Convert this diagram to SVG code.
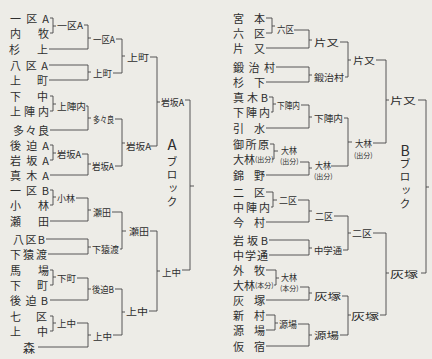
<svg xmlns="http://www.w3.org/2000/svg" width="432" height="359" viewBox="0 0 432 359">
<style>
text{font-family:"Noto Sans CJK JP","Noto Sans",sans-serif;fill:#2e2e2e;dominant-baseline:central}
.n{font-size:11px}
.l{font-size:9.5px}
.s{font-size:7px}
.b{font-size:15px;text-anchor:middle}
.v{font-size:11px;writing-mode:vertical-rl;letter-spacing:2.5px}
.c path{fill:none;stroke:#454545;stroke-width:0.9}
</style>
<rect width="432" height="359" fill="#edece7"/>
<g class="c" id="connectors">
<path d="M50 18H53V33H50M53 26H56"/>
<path d="M50 96H53V111H50M53 104H56"/>
<path d="M50 145H53V160H50M53 153H56"/>
<path d="M50 190H53V205H50M53 197H56"/>
<path d="M50 270H53V285H50M53 277H56"/>
<path d="M50 316H53V331H50M53 323H56"/>
<path d="M84 25H88V49H49M88 38H91"/>
<path d="M49 65H88V80H49M88 72H91"/>
<path d="M86 106H88V130H50M88 118H91"/>
<path d="M82 154H88V175H50M88 164H91"/>
<path d="M76 198H88V221H50M88 210H91"/>
<path d="M46 239H88V254H48M88 247H91"/>
<path d="M77 278H88V300H50M88 289H91"/>
<path d="M77 323H88V347H38M88 335H91"/>
<path d="M116 39H122V73H113M122 56H125"/>
<path d="M115 119H122V166H115M122 143H125"/>
<path d="M112 212H122V249H120M122 231H126"/>
<path d="M115 289H122V335H113M122 312H125"/>
<path d="M150 57H157V146H150M157 102H160"/>
<path d="M150 231H157V311H149M157 271H160"/>
<path d="M185 100H190V270H182M190 186H194"/>
<path d="M266 18H272V33H266M272 26H275"/>
<path d="M269 97H273V112H271M273 104H276"/>
<path d="M270 144H274V159H272M274 151H278"/>
<path d="M266 192H273V207H271M273 200H277"/>
<path d="M266 270H276V285H274M276 278H279"/>
<path d="M266 315H275V330H266M275 323H278"/>
<path d="M294 30H309V48H266M309 40H312"/>
<path d="M276 67H309V82H266M309 75H312"/>
<path d="M301 105H309V128H266M309 117H312"/>
<path d="M300 162H309V175H266M309 168H312"/>
<path d="M298 200H309V222H266M309 211H312"/>
<path d="M269 240H309V255H269M309 248H312"/>
<path d="M300 287H309V300H266M309 293H312"/>
<path d="M298 324H309V346H266M309 335H312"/>
<path d="M340 42H348V77H345M348 60H351"/>
<path d="M344 118H348V166H331M348 142H352"/>
<path d="M334 216H348V250H343M348 233H351"/>
<path d="M342 296H348V335H340M348 315H351"/>
<path d="M376 60H386V143H373M386 100H389"/>
<path d="M373 233H386V315H380M386 273H389"/>
<path d="M418 100H426V273H421M426 187H429"/>
</g>
<g id="L1"><text class="n" x="10" y="18" textLength="39" lengthAdjust="spacing">一区A</text></g>
<g id="L2"><text class="n" x="10" y="33" textLength="39" lengthAdjust="spacing">内牧</text></g>
<g id="L3"><text class="n" x="9" y="49" textLength="39" lengthAdjust="spacing">杉上</text></g>
<g id="L4"><text class="n" x="10" y="65" textLength="38" lengthAdjust="spacing">八区A</text></g>
<g id="L5"><text class="n" x="10" y="80" textLength="38" lengthAdjust="spacing">上町</text></g>
<g id="L6"><text class="n" x="10" y="96" textLength="38" lengthAdjust="spacing">下中</text></g>
<g id="L7"><text class="n" x="10" y="111" textLength="39" lengthAdjust="spacing">上陣内</text></g>
<g id="L8"><text class="n" x="13" y="130" textLength="36" lengthAdjust="spacing">多々良</text></g>
<g id="L9"><text class="n" x="10" y="145" textLength="39" lengthAdjust="spacing">後迫A</text></g>
<g id="L10"><text class="n" x="10" y="160" textLength="39" lengthAdjust="spacing">岩坂A</text></g>
<g id="L11"><text class="n" x="10" y="175" textLength="39" lengthAdjust="spacing">真木A</text></g>
<g id="L12"><text class="n" x="10" y="190" textLength="39" lengthAdjust="spacing">一区B</text></g>
<g id="L13"><text class="n" x="10" y="205" textLength="39" lengthAdjust="spacing">小林</text></g>
<g id="L14"><text class="n" x="10" y="221" textLength="39" lengthAdjust="spacing">瀬田</text></g>
<g id="L15"><text class="n" x="13" y="239" textLength="32" lengthAdjust="spacing">八区B</text></g>
<g id="L16"><text class="n" x="10" y="254" textLength="37" lengthAdjust="spacing">下猿渡</text></g>
<g id="L17"><text class="n" x="10" y="270" textLength="39" lengthAdjust="spacing">馬場</text></g>
<g id="L18"><text class="n" x="10" y="285" textLength="38" lengthAdjust="spacing">下町</text></g>
<g id="L19"><text class="n" x="10" y="300" textLength="38" lengthAdjust="spacing">後迫B</text></g>
<g id="L20"><text class="n" x="10" y="316" textLength="37" lengthAdjust="spacing">七区</text></g>
<g id="L21"><text class="n" x="10" y="331" textLength="38" lengthAdjust="spacing">上中</text></g>
<g id="L22"><text class="n" x="23" y="347" style="font-size:12px">森</text></g>
<g id="LW1"><text class="l" x="57" y="25" textLength="26" lengthAdjust="spacingAndGlyphs">一区A</text></g>
<g id="LW2"><text class="l" x="57" y="106" textLength="29" lengthAdjust="spacingAndGlyphs">上陣内</text></g>
<g id="LW3"><text class="l" x="57" y="154" textLength="24" lengthAdjust="spacingAndGlyphs">岩坂A</text></g>
<g id="LW4"><text class="l" x="57" y="198" textLength="18" lengthAdjust="spacingAndGlyphs">小林</text></g>
<g id="LW5"><text class="l" x="57" y="278" textLength="19" lengthAdjust="spacingAndGlyphs">下町</text></g>
<g id="LW6"><text class="l" x="57" y="323" textLength="19" lengthAdjust="spacingAndGlyphs">上中</text></g>
<g id="LW7"><text class="l" x="93" y="39" textLength="22" lengthAdjust="spacingAndGlyphs">一区A</text></g>
<g id="LW8"><text class="l" x="93" y="73" textLength="19" lengthAdjust="spacingAndGlyphs">上町</text></g>
<g id="LW9"><text class="l" x="93" y="119" textLength="21" lengthAdjust="spacingAndGlyphs">多々良</text></g>
<g id="LW10"><text class="l" x="92" y="166" textLength="22" lengthAdjust="spacingAndGlyphs">岩坂A</text></g>
<g id="LW11"><text class="l" x="93" y="212" textLength="18" lengthAdjust="spacingAndGlyphs">瀬田</text></g>
<g id="LW12"><text class="l" x="92" y="249" textLength="27" lengthAdjust="spacingAndGlyphs">下猿渡</text></g>
<g id="LW13"><text class="l" x="92" y="289" textLength="22" lengthAdjust="spacingAndGlyphs">後迫B</text></g>
<g id="LW14"><text class="l" x="93" y="336" textLength="19" lengthAdjust="spacingAndGlyphs">上中</text></g>
<g id="LW15"><text class="l" x="127" y="57" textLength="22" lengthAdjust="spacingAndGlyphs">上町</text></g>
<g id="LW16"><text class="l" x="126" y="146" textLength="25" lengthAdjust="spacingAndGlyphs">岩坂A</text></g>
<g id="LW17"><text class="l" x="129" y="231" textLength="20" lengthAdjust="spacingAndGlyphs">瀬田</text></g>
<g id="LW18"><text class="l" x="126" y="311" textLength="22" lengthAdjust="spacingAndGlyphs">上中</text></g>
<g id="LW19"><text class="l" x="161" y="102" textLength="23" lengthAdjust="spacingAndGlyphs">岩坂A</text></g>
<g id="LW20"><text class="l" x="162" y="272" textLength="19" lengthAdjust="spacingAndGlyphs">上中</text></g>
<g id="blockA"><text class="b" x="172" y="143">A</text><text class="v" x="172" y="156">ブロック</text></g>
<g id="R1"><text class="n" x="233" y="18" textLength="32" lengthAdjust="spacing">宮本</text></g>
<g id="R2"><text class="n" x="233" y="33" textLength="32" lengthAdjust="spacing">六区</text></g>
<g id="R3"><text class="n" x="233" y="48" textLength="32" lengthAdjust="spacing">片又</text></g>
<g id="R4"><text class="n" x="233" y="67" textLength="42" lengthAdjust="spacing">鍛治村</text></g>
<g id="R5"><text class="n" x="233" y="82" textLength="32" lengthAdjust="spacing">杉下</text></g>
<g id="R6"><text class="n" x="233" y="97" textLength="35" lengthAdjust="spacing">真木B</text></g>
<g id="R7"><text class="n" x="233" y="112" textLength="37" lengthAdjust="spacing">下陣内</text></g>
<g id="R8"><text class="n" x="233" y="128" textLength="32" lengthAdjust="spacing">引水</text></g>
<g id="R9"><text class="n" x="233" y="144" textLength="36" lengthAdjust="spacing">御所原</text></g>
<g id="R10"><text class="n" x="233" y="159">大林<tspan class="s">(出分)</tspan></text></g>
<g id="R11"><text class="n" x="233" y="175" textLength="32" lengthAdjust="spacing">錦野</text></g>
<g id="R12"><text class="n" x="233" y="192" textLength="32" lengthAdjust="spacing">二区</text></g>
<g id="R13"><text class="n" x="233" y="207" textLength="37" lengthAdjust="spacing">中陣内</text></g>
<g id="R14"><text class="n" x="233" y="222" textLength="32" lengthAdjust="spacing">今村</text></g>
<g id="R15"><text class="n" x="233" y="240" textLength="35" lengthAdjust="spacing">岩坂B</text></g>
<g id="R16"><text class="n" x="233" y="255" textLength="35" lengthAdjust="spacing">中学通</text></g>
<g id="R17"><text class="n" x="233" y="270" textLength="32" lengthAdjust="spacing">外牧</text></g>
<g id="R18"><text class="n" x="233" y="285">大林<tspan class="s">(本分)</tspan></text></g>
<g id="R19"><text class="n" x="233" y="300" textLength="32" lengthAdjust="spacing">灰塚</text></g>
<g id="R20"><text class="n" x="233" y="315" textLength="32" lengthAdjust="spacing">新村</text></g>
<g id="R21"><text class="n" x="233" y="330" textLength="32" lengthAdjust="spacing">源場</text></g>
<g id="R22"><text class="n" x="233" y="346" textLength="32" lengthAdjust="spacing">仮宿</text></g>
<g id="RW1"><text class="l" x="277" y="29" textLength="17" lengthAdjust="spacingAndGlyphs">六区</text></g>
<g id="RW2"><text class="l" x="277" y="105" textLength="23" lengthAdjust="spacingAndGlyphs">下陣内</text></g>
<g id="RW3"><text class="l" x="281" y="150" textLength="16" lengthAdjust="spacingAndGlyphs">大林</text><text class="s" x="280" y="161">(出分)</text></g>
<g id="RW4"><text class="l" x="279" y="200" textLength="18" lengthAdjust="spacingAndGlyphs">二区</text></g>
<g id="RW5"><text class="l" x="281" y="277" textLength="16" lengthAdjust="spacingAndGlyphs">大林</text><text class="s" x="280" y="288">(本分)</text></g>
<g id="RW6"><text class="l" x="279" y="324" textLength="18" lengthAdjust="spacingAndGlyphs">源場</text></g>
<g id="RW7"><text class="l" x="314" y="42" textLength="25" lengthAdjust="spacingAndGlyphs">片又</text></g>
<g id="RW8"><text class="l" x="314" y="77" textLength="30" lengthAdjust="spacingAndGlyphs">鍛治村</text></g>
<g id="RW9"><text class="l" x="314" y="118" textLength="29" lengthAdjust="spacingAndGlyphs">下陣内</text></g>
<g id="RW10"><text class="l" x="315" y="165" textLength="16" lengthAdjust="spacingAndGlyphs">大林</text><text class="s" x="314" y="176">(出分)</text></g>
<g id="RW11"><text class="l" x="315" y="216" textLength="18" lengthAdjust="spacingAndGlyphs">二区</text></g>
<g id="RW12"><text class="l" x="314" y="250" textLength="28" lengthAdjust="spacingAndGlyphs">中学通</text></g>
<g id="RW13"><text class="l" x="314" y="296" textLength="27" lengthAdjust="spacingAndGlyphs">灰塚</text></g>
<g id="RW14"><text class="l" x="314" y="335" textLength="25" lengthAdjust="spacingAndGlyphs">源場</text></g>
<g id="RW15"><text class="l" x="353" y="60" textLength="22" lengthAdjust="spacingAndGlyphs">片又</text></g>
<g id="RW16"><text class="l" x="355" y="143" textLength="17" lengthAdjust="spacingAndGlyphs">大林</text><text class="s" x="354" y="155">(出分)</text></g>
<g id="RW17"><text class="l" x="352" y="233" textLength="20" lengthAdjust="spacingAndGlyphs">二区</text></g>
<g id="RW18"><text class="l" x="351" y="316" textLength="28" lengthAdjust="spacingAndGlyphs">灰塚</text></g>
<g id="RW19"><text class="l" x="390" y="100" textLength="26" lengthAdjust="spacingAndGlyphs">片又</text></g>
<g id="RW20"><text class="l" x="390" y="274" textLength="28" lengthAdjust="spacingAndGlyphs">灰塚</text></g>
<g id="blockB"><text class="b" x="405" y="150" style="font-size:14px">B</text><text class="v" x="405" y="158">ブロック</text></g>
</svg>
